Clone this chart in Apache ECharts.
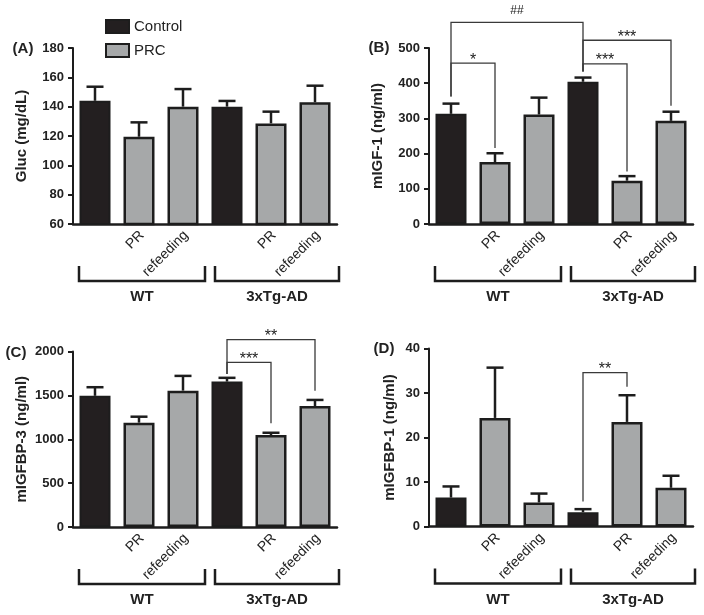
<!DOCTYPE html>
<html><head><meta charset="utf-8">
<script src="https://cdn.jsdelivr.net/npm/echarts@6/dist/echarts.min.js"></script>
<style>html,body{margin:0;padding:0;background:#fff}#c{width:704px;height:615px}</style>
</head><body><div id="c"></div>
<script>
// ---- data ----
const categories = ['WT Control', 'WT PR', 'WT refeeding', '3xTg-AD Control', '3xTg-AD PR', '3xTg-AD refeeding'];
const tickLabels = ['', 'PR', 'refeeding', '', 'PR', 'refeeding'];
const groupNames = ['WT', '3xTg-AD'];
const isControl = [true, false, false, true, false, false];

const glucMean  = [144, 119.5, 140, 140, 128.6, 143];
const glucUpper = [153.6, 129.3, 152, 143.9, 136.6, 154.3];
const igf1Mean  = [313, 176, 311, 404, 123, 293];
const igf1Upper = [342, 201, 359, 416, 136, 319];
const bp3Mean   = [1495, 1189, 1554, 1657, 1048, 1379];
const bp3Upper  = [1593, 1257, 1722, 1700, 1074, 1448];
const bp1Mean   = [6.5, 24.4, 5.4, 3.2, 23.5, 8.7];
const bp1Upper  = [9.0, 35.7, 7.4, 3.9, 29.5, 11.4];

const panelLetters = ['(A)', '(B)', '(C)', '(D)'];
const yNames = ['Gluc (mg/dL)', 'mIGF-1 (ng/ml)', 'mIGFBP-3 (ng/ml)', 'mIGFBP-1 (ng/ml)'];
const yMin = [60, 0, 0, 0];
const yMax = [180, 500, 2000, 40];
const yStep = [20, 100, 500, 10];

// significance brackets (panel, bar a, bar b, line level, leg end a, leg end b, label)
const sigPanel = [1, 1, 1, 1, 2, 2, 3];
const sigA     = [0, 0, 3, 3, 3, 3, 3];
const sigB     = [3, 1, 4, 5, 5, 4, 4];
const sigLevel = [573, 457, 455, 522, 2135, 1876, 34.6];
const sigEndA  = [362, 362, 433, 433, 1745, 1745, 5.6];
const sigEndB  = [433, 216, 149, 336, 1554, 1182, 31.4];
const sigText  = ['##', '*', '***', '***', '**', '***', '**'];

const means = [glucMean, igf1Mean, bp3Mean, bp1Mean];
const uppers = [glucUpper, igf1Upper, bp3Upper, bp1Upper];

// ---- layout ----
const grids = [
  {left: 73, top: 48, width: 264, height: 176},
  {left: 429, top: 48, width: 264, height: 176},
  {left: 73, top: 351.5, width: 264, height: 175.5},
  {left: 429, top: 348.5, width: 264, height: 178}
];
const FONT = 'Liberation Sans, Arial, sans-serif';
const INK = '#1d1d1d';
const BLACK = '#231f20';
const GREY = '#a6a8a9';

const chart = echarts.init(document.getElementById('c'), null, {renderer: 'canvas'});

const xAxes = [], yAxes = [], series = [];
for (let k = 0; k < 4; k++) {
  xAxes.push({
    type: 'category', gridIndex: k, data: categories, z: 4,
    axisLine: {lineStyle: {color: INK, width: 2.5}},
    axisTick: {show: false},
    axisLabel: {show: false}
  });
  yAxes.push({
    type: 'value', gridIndex: k, min: yMin[k], max: yMax[k], interval: yStep[k],
    name: yNames[k], nameLocation: 'middle', nameGap: k === 3 ? 32 : 44,
    nameTextStyle: {fontFamily: FONT, fontSize: 15, fontWeight: 'bold', color: '#222'},
    axisLine: {show: true, lineStyle: {color: INK, width: 2}},
    axisTick: {show: true, length: 5, lineStyle: {color: INK, width: 2}},
    axisLabel: {fontFamily: FONT, fontSize: 13, fontWeight: 'bold', color: '#222', margin: 9,
      formatter: v => String(v)},
    splitLine: {show: false}
  });
  series.push({
    name: 'Control', type: 'bar', xAxisIndex: k, yAxisIndex: k, barWidth: 31, barGap: '-100%',
    itemStyle: {color: BLACK, borderColor: INK, borderWidth: 2},
    data: means[k].map((v, i) => isControl[i] ? v : '-'),
    silent: true
  });
  series.push({
    name: 'PRC', type: 'bar', xAxisIndex: k, yAxisIndex: k, barWidth: 31, barGap: '-100%',
    itemStyle: {color: GREY, borderColor: INK, borderWidth: 2.5},
    data: means[k].map((v, i) => isControl[i] ? '-' : v),
    silent: true
  });
  series.push({
    name: 'err' + k, type: 'custom', xAxisIndex: k, yAxisIndex: k, silent: true, z: 3,
    data: means[k].map((m, i) => [i, m, uppers[k][i]]),
    encode: {x: 0, y: [1, 2]},
    renderItem: (params, api) => {
      const x = api.value(0), m = api.value(1), u = api.value(2);
      const p0 = api.coord([x, m]), p1 = api.coord([x, u]);
      const hw = 8.5;
      return {type: 'group', children: [
        {type: 'line', shape: {x1: p0[0], y1: p0[1], x2: p1[0], y2: p1[1]}, style: {stroke: INK, lineWidth: 2.5}},
        {type: 'line', shape: {x1: p1[0] - hw, y1: p1[1], x2: p1[0] + hw, y2: p1[1]}, style: {stroke: INK, lineWidth: 2.5}}
      ]};
    }
  });
}

chart.setOption({
  animation: false,
  backgroundColor: '#fff',
  grid: grids.map(g => Object.assign({containLabel: false}, g)),
  xAxis: xAxes,
  yAxis: yAxes,
  legend: {
    data: ['Control', 'PRC'], orient: 'vertical', left: 100, top: 14,
    itemWidth: 23, itemHeight: 13, itemGap: 9, icon: 'rect', selectedMode: false,
    textStyle: {fontFamily: FONT, fontSize: 15, color: '#222'}
  },
  series: series
});

// ---- annotations computed from the axes ----
const gfx = [];
const px = (k, i, v) => chart.convertToPixel({xAxisIndex: k, yAxisIndex: k}, [i, v]);
const letterPos = [[23, 49], [379, 48], [16, 352.5], [384, 349]];
for (let k = 0; k < 4; k++) {
  gfx.push({type: 'text', x: letterPos[k][0], y: letterPos[k][1],
    style: {text: panelLetters[k], font: 'bold 15px ' + FONT, fill: '#222', textAlign: 'center', textVerticalAlign: 'middle'}});
  const base = px(k, 0, yMin[k])[1];
  // rotated category tick labels
  for (let i = 0; i < categories.length; i++) {
    if (!tickLabels[i]) continue;
    const c = px(k, i, yMin[k]);
    gfx.push({type: 'text', x: c[0] + 3, y: base + 9, rotation: Math.PI / 4,
      style: {text: tickLabels[i], font: '14px ' + FONT, fill: '#222', textAlign: 'right', textVerticalAlign: 'middle'}});
  }
  const yb = base + 57;
  const spans = [[0, 2, -16, 22], [3, 5, -12, 24]];
  spans.forEach((s, gi) => {
    const xl = px(k, s[0], yMin[k])[0] + s[2];
    const xr = px(k, s[1], yMin[k])[0] + s[3];
    gfx.push({type: 'polyline', shape: {points: [[xl, yb - 15], [xl, yb], [xr, yb], [xr, yb - 15]]},
      style: {stroke: INK, lineWidth: 2.5, fill: null}});
    gfx.push({type: 'text', x: (xl + xr) / 2, y: yb + 16,
      style: {text: groupNames[gi], font: 'bold 15px ' + FONT, fill: '#222', textAlign: 'center', textVerticalAlign: 'middle'}});
  });
}
for (let s = 0; s < sigText.length; s++) {
  const k = sigPanel[s];
  const pa = px(k, sigA[s], sigLevel[s]);
  const pb = px(k, sigB[s], sigLevel[s]);
  const ea = px(k, sigA[s], sigEndA[s]);
  const eb = px(k, sigB[s], sigEndB[s]);
  gfx.push({type: 'polyline', shape: {points: [[ea[0], ea[1]], [pa[0], pa[1]], [pb[0], pb[1]], [eb[0], eb[1]]]},
    style: {stroke: '#3a3a3a', lineWidth: 1.3, fill: null}});
  const isHash = sigText[s].indexOf('#') >= 0;
  gfx.push({type: 'text', x: (pa[0] + pb[0]) / 2, y: pa[1] - (isHash ? 12 : 3),
    style: {text: sigText[s], font: (isHash ? '12px ' : '16px ') + FONT, fill: '#222', textAlign: 'center', textVerticalAlign: 'middle'}});
}
chart.setOption({graphic: gfx});
</script></body></html>
